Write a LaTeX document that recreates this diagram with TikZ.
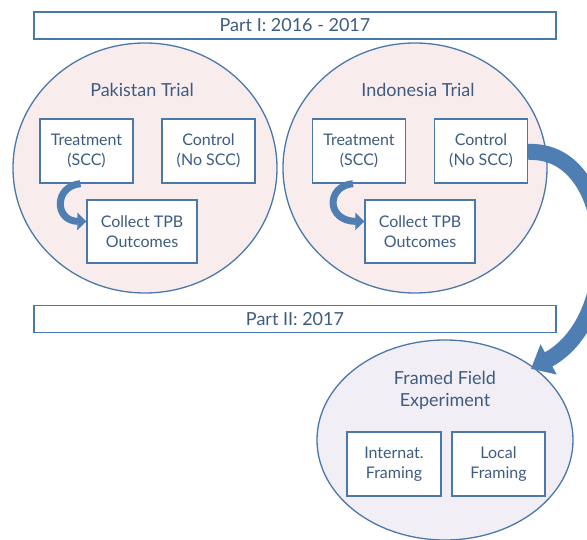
\documentclass[tikz,border=0pt]{standalone}
\usepackage{fontspec}
\setmainfont{Lato}
\usetikzlibrary{shapes.geometric,arrows.meta}
\definecolor{edgeblue}{HTML}{4A78AA}
\definecolor{textblue}{HTML}{3E5C82}
\definecolor{trialpink}{HTML}{F9ECEC}
\definecolor{fieldlilac}{HTML}{F1EEF6}
\definecolor{arrowblue}{HTML}{4F7EB3}

\begin{document}
\begin{tikzpicture}[x=1pt,y=-1pt,
  partbar/.style={draw=edgeblue,line width=1.3pt,fill=white,text=textblue,
    minimum width=522pt,minimum height=27pt,inner sep=0pt,font=\fontsize{18}{22}\selectfont},
  trial/.style={ellipse,draw=edgeblue,line width=1.3pt,fill=trialpink,inner sep=0pt,
    minimum width=264pt,minimum height=250pt},
  title/.style={text=textblue,align=center,font=\fontsize{18}{22}\selectfont},
  armbox/.style={draw=edgeblue,line width=1.3pt,fill=white,text=textblue,align=center,
    minimum width=93pt,minimum height=64pt,inner sep=0pt,font=\fontsize{16}{20}\selectfont},
  smallarrow/.style={arrowblue,line width=7pt,-{Triangle[length=9pt,width=17pt]}},
  bigarrow/.style={arrowblue,line width=16pt,-{Triangle[length=20pt,width=33pt]}}]
  \useasboundingbox (0,0) rectangle (587,540);

  % part headers
  \node[partbar] (part1) at (295,25.5) {Part I: 2016 - 2017};
  \node[partbar] (part2) at (295,319) {Part II: 2017};

  % Pakistan
  \node[trial] (pk) at (145,168) {};
  \node[title] (pkt) at (142,90) {Pakistan Trial};
  \node[armbox] (pkT) at (86.5,151) {Treatment\\(SCC)};
  \node[armbox] (pkC) at (208.5,151) {Control\\(No SCC)};
  \node[armbox,minimum width=110pt,minimum height=63pt] (pkO) at (142,231.5) {Collect TPB\\Outcomes};

  % Indonesia
  \node[trial] (id) at (415,168) {};
  \node[title] (idt) at (418,90) {Indonesia Trial};
  \node[armbox] (idT) at (359,151) {Treatment\\(SCC)};
  \node[armbox] (idC) at (481,151) {Control\\(No SCC)};
  \node[armbox,minimum width=110pt,minimum height=63pt] (idO) at (420,231.5) {Collect TPB\\Outcomes};

  % framed field experiment
  \node[trial,fill=fieldlilac,minimum width=256pt,minimum height=200pt] (ff) at (445,440) {};
  \node[title] (fft) at (445,390) {Framed Field\\Experiment};
  \node[armbox,minimum width=94pt] (iF) at (394,464) {Internat.\\Framing};
  \node[armbox] (lF) at (498.5,464) {Local\\Framing};

  \draw[smallarrow] ([xshift=-6pt]pkT.south) .. controls (54,186) and (54,221) .. ([yshift=10pt]pkO.west);
  \draw[smallarrow] ([xshift=-6pt]idT.south) .. controls (326,186) and (326,221) .. ([yshift=10pt]idO.west);
  \draw[bigarrow] ([yshift=-1pt]idC.east) .. controls (616,148) and (626,318) .. ([xshift=-5pt]ff.north east);
\end{tikzpicture}
\end{document}
